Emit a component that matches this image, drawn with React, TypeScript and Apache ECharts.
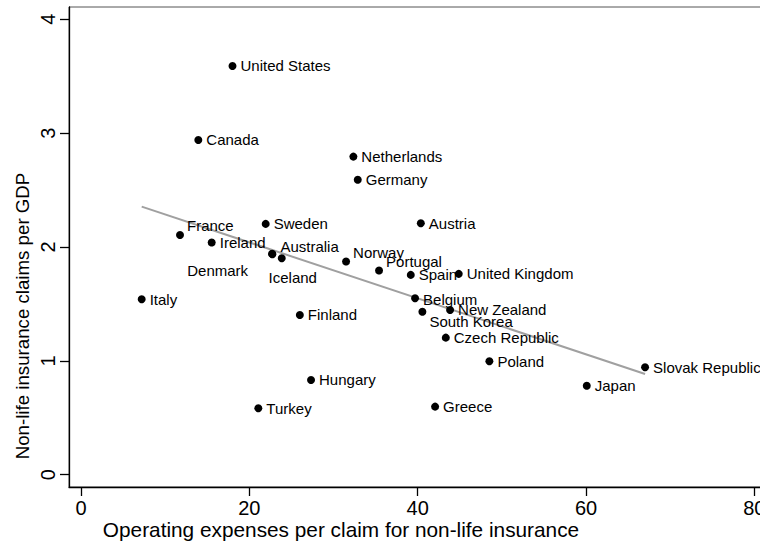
import React, { useEffect, useRef } from "react";
import * as echarts from "echarts";

const countries = [
  "United States", "Canada", "Netherlands", "Germany", "Austria", "France", "Sweden",
  "Ireland", "Australia", "Denmark", "Iceland", "Norway", "Portugal", "Spain",
  "United Kingdom", "Italy", "Belgium", "New Zealand", "South Korea", "Czech Republic",
  "Finland", "Poland", "Slovak Republic", "Japan", "Hungary", "Turkey", "Greece",
];
const opExpensePerClaim = [
  18.0, 13.94, 32.36, 32.88, 40.37, 11.76, 21.94,
  15.53, 22.74, 22.7, 23.85, 31.49, 35.41, 39.18,
  44.88, 7.21, 39.69, 43.85, 40.56, 43.34,
  26.0, 48.52, 67.02, 60.09, 27.33, 21.07, 42.07,
];
const claimsPerGdp = [
  3.59, 2.94, 2.794, 2.59, 2.209, 2.106, 2.203,
  2.039, 1.937, 1.94, 1.901, 1.872, 1.793, 1.755,
  1.764, 1.541, 1.55, 1.447, 1.432, 1.204,
  1.403, 0.996, 0.944, 0.782, 0.832, 0.583, 0.598,
];
const fitX = [7.21, 67.02];
const fitY = [2.355, 0.885];
const xTicks = [0, 20, 40, 60, 80];
const yTicks = [0, 1, 2, 3, 4];
const xTitle = "Operating expenses per claim for non-life insurance";
const yTitle = "Non-life insurance claims per GDP";

// label placement relative to the marker centre (style only)
const labelPlacement: Record<string, { align: string; dx: number; dy: number }> = {
  France: { align: "left", dx: 7, dy: -9 },
  Australia: { align: "left", dx: 8, dy: -8 },
  Iceland: { align: "center", dx: 11, dy: 19 },
  Denmark: { align: "right", dx: -24, dy: 17 },
  Norway: { align: "left", dx: 7, dy: -9 },
  Portugal: { align: "left", dx: 7, dy: -9 },
  "South Korea": { align: "left", dx: 7, dy: 10 },
  Belgium: { align: "left", dx: 8, dy: 1 },
};

const FONT = "'Liberation Sans', Arial, Helvetica, sans-serif";

export default function App() {
  const ref = useRef<HTMLDivElement>(null);
  useEffect(() => {
    if (!ref.current) return;
    const chart = echarts.init(ref.current, null, { renderer: "svg" });
    const points = countries.map((name, i) => {
      const p = labelPlacement[name] || { align: "left", dx: 8, dy: 0 };
      return {
        name,
        value: [opExpensePerClaim[i], claimsPerGdp[i]],
        label: {
          show: true,
          formatter: name,
          position: "inside",
          align: p.align,
          verticalAlign: "middle",
          offset: [p.dx, p.dy],
          color: "#000",
          fontFamily: FONT,
          fontSize: 15,
        },
      };
    });
    chart.setOption({
      animation: false,
      backgroundColor: "#fff",
      grid: {
        left: 69,
        top: 7,
        right: -2,
        bottom: 57,
        show: true,
        borderColor: "#555",
        borderWidth: 1,
        containLabel: false,
        outerBoundsMode: "none",
      },
      xAxis: {
        type: "value",
        min: -1.426,
        max: 80.91,
        axisLine: { show: true, onZero: false, lineStyle: { color: "#000", width: 1.3 } },
        axisTick: { show: true, length: 9, customValues: xTicks, lineStyle: { color: "#000", width: 1.3 } },
        axisLabel: {
          customValues: xTicks,
          margin: 11,
          color: "#000",
          fontFamily: FONT,
          fontSize: 20,
          hideOverlap: false,
        },
        splitLine: { show: false },
      },
      yAxis: {
        type: "value",
        min: -0.108,
        max: 4.108,
        axisLine: { show: true, onZero: false, lineStyle: { color: "#000", width: 1.3 } },
        axisTick: { show: true, length: 9, customValues: yTicks, lineStyle: { color: "#000", width: 1.3 } },
        axisLabel: {
          customValues: yTicks,
          rotate: 90,
          margin: 11,
          color: "#000",
          fontFamily: FONT,
          fontSize: 20,
        },
        splitLine: { show: false },
      },
      series: [
        {
          type: "line",
          data: fitX.map((x, i) => [x, fitY[i]]),
          showSymbol: false,
          symbol: "none",
          lineStyle: { color: "#a0a0a0", width: 2 },
          z: 1,
          silent: true,
        },
        {
          type: "scatter",
          data: points,
          symbol: "circle",
          symbolSize: 8,
          itemStyle: { color: "#000", opacity: 1 },
          z: 2,
        },
      ],
      graphic: [
        {
          type: "text",
          x: 22.5,
          y: 316,
          rotation: Math.PI / 2,
          style: {
            text: yTitle,
            fill: "#000",
            fontFamily: FONT,
            fontSize: 18.7,
            align: "center",
            verticalAlign: "middle",
          },
        },
        {
          type: "text",
          x: 341,
          y: 529,
          style: {
            text: xTitle,
            fill: "#000",
            fontFamily: FONT,
            fontSize: 20.8,
            align: "center",
            verticalAlign: "middle",
          },
        },
      ],
    });
    return () => chart.dispose();
  }, []);
  return (
    <div
      ref={ref}
      style={{ position: "fixed", left: 0, top: 0, width: 760, height: 544, background: "#fff" }}
    />
  );
}
